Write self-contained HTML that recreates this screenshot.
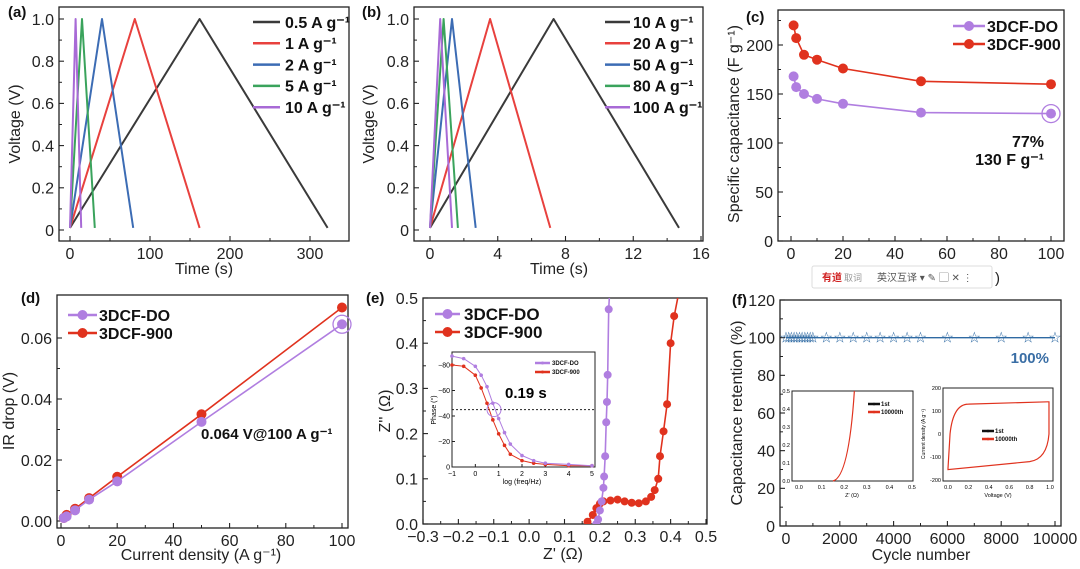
<!DOCTYPE html>
<html><head><meta charset="utf-8"><style>
html,body{margin:0;padding:0;background:#fff}
svg{display:block;font-family:"Liberation Sans",Arial,sans-serif}
</style></head><body>
<svg id="fig" width="1080" height="569" viewBox="0 0 1080 569" xmlns="http://www.w3.org/2000/svg"></svg>
<script>
// ---------- data ----------
const aRates=["0.5 A g\u207B\u00B9","1 A g\u207B\u00B9","2 A g\u207B\u00B9","5 A g\u207B\u00B9","10 A g\u207B\u00B9"];
const aPeak=[162,81,40,15,7];
const aEnd=[322,162,79,31,14];
const bRates=["10 A g\u207B\u00B9","20 A g\u207B\u00B9","50 A g\u207B\u00B9","80 A g\u207B\u00B9","100 A g\u207B\u00B9"];
const bPeak=[7.3,3.55,1.3,0.8,0.6];
const bEnd=[14.7,7.1,2.7,1.65,1.3];
const gcdColors=["#3a3a3a","#e8413e","#3c6cb4","#3aa35c","#a86ad6"];
const cX=[1,2,5,10,20,50,100];
const cDO=[168,157,150,145,140,131,130];
const c900=[220,207,190,185,176,163,160];
const dX=[1,2,5,10,20,50,100];
const dDO=[0.001,0.0015,0.0035,0.007,0.013,0.0325,0.0645];
const d900=[0.001,0.002,0.004,0.0075,0.0145,0.035,0.070];
const eDOx=[0.19,0.195,0.2,0.205,0.21,0.212,0.215,0.218,0.22,0.222,0.225,0.228];
const eDOy=[0,0.01,0.03,0.05,0.08,0.105,0.15,0.225,0.27,0.33,0.475,0.52];
const e900x=[0.165,0.18,0.19,0.2,0.21,0.23,0.25,0.27,0.29,0.31,0.33,0.345,0.355,0.365,0.37,0.38,0.39,0.4,0.41,0.425];
const e900y=[0.005,0.02,0.035,0.045,0.05,0.052,0.054,0.05,0.047,0.046,0.05,0.06,0.075,0.1,0.15,0.205,0.265,0.4,0.46,0.52];
const phX=[-1,-0.5,0,0.25,0.5,0.75,1,1.25,1.5,2,2.5,3,4,5];
const phDO=[-87,-85,-79,-72,-63,-50,-38,-27,-18,-9,-5,-3,-2,-1];
const ph900=[-80,-79,-72,-62,-50,-37,-26,-17,-10,-5,-3,-2,-1,-1];
const fX=[0,100,200,300,400,500,600,700,800,900,1000,1500,2000,2500,3000,3500,4000,4500,5000,6000,7000,8000,9000,10000];
const fY=[100,100,100,100,100,100,100,100,100,100,100,100,100,100,100,100,100,100,100,100,100,100,100,100];

// ---------- helpers ----------
const NS="http://www.w3.org/2000/svg";
const svg=document.getElementById('fig');
function mk(tag,attrs,parent,text){const e=document.createElementNS(NS,tag);for(const k in attrs)e.setAttribute(k,attrs[k]);if(text!==undefined)e.textContent=text;(parent||svg).appendChild(e);return e;}
function lin(d0,d1,p0,p1){return v=>p0+(v-d0)*(p1-p0)/(d1-d0);}
function axes(g,box,sx,sy,xt,xl,yt,yl,fs,xmin,ymin){
  const r=mk('rect',{x:box[0],y:box[1],width:box[2]-box[0],height:box[3]-box[1],fill:'none',stroke:'#222','stroke-width':1.3},g);
  
  xt.forEach((v,i)=>{const x=sx(v);mk('line',{x1:x,x2:x,y1:box[3],y2:box[3]-5,stroke:'#222','stroke-width':1.1},g);
    const t=mk('text',{x:x,y:box[3]+fs+2,'font-size':fs,'text-anchor':'middle',fill:'#222'},g,xl[i]);
    });
  if(xmin)xmin.forEach(v=>{const x=sx(v);mk('line',{x1:x,x2:x,y1:box[3],y2:box[3]-3,stroke:'#222','stroke-width':1},g);});
  yt.forEach((v,i)=>{const y=sy(v);mk('line',{x1:box[0],x2:box[0]+5,y1:y,y2:y,stroke:'#222','stroke-width':1.1},g);
    const t=mk('text',{x:box[0]-5,y:y+fs*0.36,'font-size':fs,'text-anchor':'end',fill:'#222'},g,yl[i]);
    });
  if(ymin)ymin.forEach(v=>{const y=sy(v);mk('line',{x1:box[0],x2:box[0]+3,y1:y,y2:y,stroke:'#222','stroke-width':1},g);});
}
function title(g,x,y,txt,fs,rot,name){const t=mk('text',{x:x,y:y,'font-size':fs,'text-anchor':'middle',fill:'#222',transform:rot?`rotate(-90 ${x} ${y})`:''},g,txt);
  return t;}
function poly(g,xs,ys,sx,sy,col,w,name){const p=xs.map((v,i)=>sx(v).toFixed(1)+','+sy(ys[i]).toFixed(1)).join(' ');
  const e=mk('polyline',{points:p,fill:'none',stroke:col,'stroke-width':w,'stroke-linejoin':'round'},g);
  return e;}
function dots(g,xs,ys,sx,sy,col,r,name){xs.forEach((v,i)=>{const c=mk('circle',{cx:sx(v),cy:sy(ys[i]),r:r,fill:col},g);
  });}
function label(g,x,y,txt){const t=mk('text',{x:x,y:y,'font-size':15,'font-weight':'bold',fill:'#111'},g,txt);
  }
function legend(g,x1,x2,tx,y,col,txt,fs,marker){const l=mk('g',{},g);
  
  mk('line',{x1:x1,x2:x2,y1:y,y2:y,stroke:col,'stroke-width':2.5},l);
  if(marker)mk('circle',{cx:(x1+x2)/2,cy:y,r:marker,fill:col},l);
  mk('text',{x:tx,y:y+fs*0.36,'font-size':fs,'font-weight':'bold',fill:'#111'},l,txt);}
const TF=16;

// ---------- (a) ----------
{const g=mk('g',{});
const box=[59,7,349,241];const sx=lin(0,300,70,310),sy=lin(0,1,230,19);
axes(g,box,sx,sy,[0,100,200,300],['0','100','200','300'],[0,0.2,0.4,0.6,0.8,1.0],['0','0.2','0.4','0.6','0.8','1.0'],TF,[50,150,250],[0.1,0.3,0.5,0.7,0.9]);
aPeak.forEach((p,i)=>poly(g,[0,p,aEnd[i]],[0.01,1,0.01],sx,sy,gcdColors[i],2,'gcd-curve'));
aRates.forEach((r,i)=>legend(g,253,280,285,22+i*21.3,gcdColors[i],r,16));
title(g,204,274,'Time (s)',16,false,'x-axis-title');title(g,20,124,'Voltage (V)',16,true,'y-axis-title');
label(g,8,17,'(a)');}

// ---------- (b) ----------
{const g=mk('g',{});
const box=[414,7,703,241];const sx=lin(0,16,430,701),sy=lin(0,1,230,19);
axes(g,box,sx,sy,[0,4,8,12,16],['0','4','8','12','16'],[0,0.2,0.4,0.6,0.8,1.0],['0','0.2','0.4','0.6','0.8','1.0'],TF,[2,6,10,14],[0.1,0.3,0.5,0.7,0.9]);
bPeak.forEach((p,i)=>poly(g,[0,p,bEnd[i]],[0.01,1,0.01],sx,sy,gcdColors[i],2,'gcd-curve'));
bRates.forEach((r,i)=>legend(g,605,630,633,22+i*21.3,gcdColors[i],r,16));
title(g,559,274,'Time (s)',16,false,'x-axis-title');title(g,374,124,'Voltage (V)',16,true,'y-axis-title');
label(g,362,17,'(b)');}

// ---------- (c) ----------
{const g=mk('g',{});
const box=[778,10,1064,241];const sx=lin(0,100,791,1051),sy=lin(0,200,241,45);
axes(g,box,sx,sy,[0,20,40,60,80,100],['0','20','40','60','80','100'],[0,50,100,150,200],['0','50','100','150','200'],TF,[10,30,50,70,90],[25,75,125,175,225]);
poly(g,cX,c900,sx,sy,'#e0321e',1.6,'line-3dcf-900');dots(g,cX,c900,sx,sy,'#e0321e',5,'point-3dcf-900');
poly(g,cX,cDO,sx,sy,'#b07ee0',1.6,'line-3dcf-do');dots(g,cX,cDO,sx,sy,'#b07ee0',5,'point-3dcf-do');
mk('circle',{cx:sx(100),cy:sy(130),r:9,fill:'none',stroke:'#b07ee0','stroke-width':1.3},g);
legend(g,953,985,987,26,'#b07ee0','3DCF-DO',16,5);legend(g,953,985,987,44,'#e0321e','3DCF-900',16,5);
mk('text',{x:1044,y:147,'font-size':16,'font-weight':'bold','text-anchor':'end',fill:'#111'},g,'77%');
mk('text',{x:1044,y:165,'font-size':16,'font-weight':'bold','text-anchor':'end',fill:'#111'},g,'130 F g\u207B\u00B9');
title(g,739,124,'Specific capacitance (F g\u207B\u00B9)',16,true,'y-axis-title');
label(g,746,22,'(c)');}

// ---------- (d) ----------
{const g=mk('g',{});
const box=[57,295,348,528];const sx=lin(0,100,61,342),sy=lin(0,0.06,521,338);
axes(g,box,sx,sy,[0,20,40,60,80,100],['0','20','40','60','80','100'],[0,0.02,0.04,0.06],['0.00','0.02','0.04','0.06'],TF,[10,30,50,70,90],[0.01,0.03,0.05]);
poly(g,dX,d900,sx,sy,'#e0321e',1.6,'line-3dcf-900');dots(g,dX,d900,sx,sy,'#e0321e',5,'point-3dcf-900');
poly(g,dX,dDO,sx,sy,'#b07ee0',1.6,'line-3dcf-do');dots(g,dX,dDO,sx,sy,'#b07ee0',5,'point-3dcf-do');
mk('circle',{cx:sx(100),cy:sy(0.0645),r:9,fill:'none',stroke:'#b07ee0','stroke-width':1.3},g);
legend(g,68,97,99,315,'#b07ee0','3DCF-DO',16,5);legend(g,68,97,99,333,'#e0321e','3DCF-900',16,5);
mk('text',{x:201,y:439,'font-size':15,'font-weight':'bold',fill:'#111'},g,'0.064 V@100 A g\u207B\u00B9');
title(g,201,560,'Current density (A g\u207B\u00B9)',16,false,'x-axis-title');title(g,14,411,'IR drop (V)',16,true,'y-axis-title');
label(g,21,303,'(d)');}

// ---------- (e) ----------
{const g=mk('g',{});
const box=[423,298,707,524];const sx=lin(-0.3,0.5,423,706),sy=lin(0,0.5,524,298);
axes(g,box,sx,sy,[-0.3,-0.2,-0.1,0,0.1,0.2,0.3,0.4,0.5],['\u22120.3','\u22120.2','\u22120.1','0.0','0.1','0.2','0.3','0.4','0.5'],[0,0.1,0.2,0.3,0.4,0.5],['0.0','0.1','0.2','0.3','0.4','0.5'],TF,[-0.25,-0.15,-0.05,0.05,0.15,0.25,0.35,0.45],[0.05,0.15,0.25,0.35,0.45]);
const cp=mk('clipPath',{id:'clipE'},g);mk('rect',{x:423,y:298,width:284,height:226},cp);
const gi=mk('g',{'clip-path':'url(#clipE)'},g);
poly(gi,e900x,e900y,sx,sy,'#e0321e',1.6,'line-3dcf-900');dots(gi,e900x,e900y,sx,sy,'#e0321e',4,'point-3dcf-900');
poly(gi,eDOx,eDOy,sx,sy,'#b07ee0',1.6,'line-3dcf-do');dots(gi,eDOx,eDOy,sx,sy,'#b07ee0',4,'point-3dcf-do');
legend(g,435,460,464,314,'#b07ee0','3DCF-DO',17,5);legend(g,435,460,464,332,'#e0321e','3DCF-900',17,5);
title(g,563,559,"Z' (\u03A9)",16,false,'x-axis-title');title(g,390,411,"Z'' (\u03A9)",16,true,'y-axis-title');
label(g,366,303,'(e)');
// inset
const ib=[452,352,595,467];const ix=lin(-1,5,452,592),iy=lin(0,-80,467,365);
mk('rect',{x:ib[0],y:ib[1],width:ib[2]-ib[0],height:ib[3]-ib[1],fill:'#fff',stroke:'#222','stroke-width':1},g);
const ig=mk('g',{},g);
[-1,0,1,2,3,4,5].forEach(v=>{mk('line',{x1:ix(v),x2:ix(v),y1:467,y2:464,stroke:'#222'},ig);mk('text',{x:ix(v),y:476,'font-size':7,'text-anchor':'middle'},ig,v<0?'\u22121':String(v));});
[0,-20,-40,-60,-80].forEach(v=>{mk('line',{x1:452,x2:455,y1:iy(v),y2:iy(v),stroke:'#222'},ig);mk('text',{x:450,y:iy(v)+2.5,'font-size':7,'text-anchor':'end'},ig,v===0?'0':'\u2212'+(-v));});
mk('text',{x:522,y:484,'font-size':7,'text-anchor':'middle'},ig,'log (freq/Hz)');
mk('text',{x:436,y:410,'font-size':7,'text-anchor':'middle',transform:'rotate(-90 436 410)'},ig,'Phase (\u00B0)');
mk('line',{x1:452,x2:595,y1:iy(-45),y2:iy(-45),stroke:'#222','stroke-dasharray':'2,2'},ig);
poly(ig,phX,ph900,ix,iy,'#e0321e',1,'phase-3dcf-900');dots(ig,phX,ph900,ix,iy,'#e0321e',1.8,'phase-point-900');
poly(ig,phX,phDO,ix,iy,'#b07ee0',1,'phase-3dcf-do');dots(ig,phX,phDO,ix,iy,'#b07ee0',1.8,'phase-point-do');
mk('circle',{cx:ix(0.8),cy:iy(-45),r:7,fill:'none',stroke:'#b07ee0','stroke-width':1},ig);
mk('text',{x:505,y:398,'font-size':15,'font-weight':'bold'},ig,'0.19 s');
legend(ig,535,550,552,363,'#b07ee0','3DCF-DO',6,1.5);legend(ig,535,550,552,372,'#e0321e','3DCF-900',6,1.5);}

// ---------- (f) ----------
{const g=mk('g',{});
const box=[780,300,1061,526];const sx=lin(0,10000,786,1055),sy=lin(0,120,526,300);
axes(g,box,sx,sy,[0,2000,4000,6000,8000,10000],['0','2000','4000','6000','8000','10000'],[0,20,40,60,80,100,120],['0','20','40','60','80','100','120'],TF,[1000,3000,5000,7000,9000],[10,30,50,70,90,110]);
poly(g,fX,fY,sx,sy,'#2f6aa3',1.3,'retention-line');
fX.forEach((v,i)=>{const t=mk('text',{x:sx(v),y:sy(fY[i])+5,'font-size':15,'text-anchor':'middle',fill:'#2f6aa3'},g,'\u2606');
  });
mk('text',{x:1049,y:363,'font-size':15,'font-weight':'bold','text-anchor':'end',fill:'#3a6ea5'},g,'100%');
title(g,921,560,'Cycle number',16,false,'x-axis-title');title(g,742,413,'Capacitance retention (%)',16,true,'y-axis-title');
label(g,732,305,'(f)');
// inset 1 nyquist
const a=mk('g',{},g);
mk('rect',{x:792,y:391,width:121,height:90,fill:'#fff',stroke:'#222'},a);
const ax=lin(0,0.5,799,912),ay=lin(0,0.5,481,391);
[0,0.1,0.2,0.3,0.4,0.5].forEach(v=>{mk('text',{x:ax(v),y:489,'font-size':5.5,'text-anchor':'middle'},a,v.toFixed(1));mk('text',{x:790,y:ay(v)+2,'font-size':5.5,'text-anchor':'end'},a,v.toFixed(1));});
mk('text',{x:852,y:497,'font-size':5.5,'text-anchor':'middle'},a,"Z' (\u03A9)");
mk('path',{d:`M${ax(0.15)},${ay(0)} Q${ax(0.22)},${ay(0.02)} ${ax(0.245)},${ay(0.5)}`,fill:'none',stroke:'#e0321e','stroke-width':1.2},a);
legend(a,868,880,881,404,'#111','1st',6,1.3);legend(a,868,880,881,412,'#e0321e','10000th',6,1.3);
// inset 2 CV
const b=mk('g',{},g);
mk('rect',{x:943,y:388,width:110,height:93,fill:'#fff',stroke:'#222'},b);
const bx=lin(0,1,948,1050),by=lin(-200,200,480,388);
[-200,-100,0,100,200].forEach(v=>mk('text',{x:941,y:by(v)+2,'font-size':5.5,'text-anchor':'end'},b,String(v)));
[0,0.2,0.4,0.6,0.8,1.0].forEach(v=>mk('text',{x:bx(v),y:489,'font-size':5.5,'text-anchor':'middle'},b,v.toFixed(1)));
mk('text',{x:998,y:497,'font-size':5.5,'text-anchor':'middle'},b,'Voltage (V)');
mk('text',{x:925,y:434,'font-size':5,'text-anchor':'middle',transform:'rotate(-90 925 434)'},b,'Current density (A g\u207B\u00B9)');
mk('path',{d:`M${bx(0)},${by(-150)} L${bx(0.02)},${by(0)} Q${bx(0.05)},${by(130)} ${bx(0.2)},${by(130)} L${bx(0.98)},${by(140)} L${bx(0.99)},${by(140)} L${bx(0.99)},${by(0)} Q${bx(0.97)},${by(-110)} ${bx(0.8)},${by(-120)} L${bx(0)},${by(-155)} Z`,fill:'none',stroke:'#e0321e','stroke-width':1.2},b);
legend(b,982,994,995,431,'#111','1st',6,1.3);legend(b,982,994,995,439,'#e0321e','10000th',6,1.3);}

// ---------- youdao popup overlay ----------
{const p=mk('g',{});
mk('rect',{x:812,y:266,width:180,height:22,rx:2,fill:'#fff',stroke:'#ddd'},p);
mk('text',{x:822,y:281,'font-size':10,fill:'#d02020','font-weight':'bold','font-family':'"Liberation Sans","Noto Sans CJK SC",sans-serif'},p,'有道');
mk('text',{x:844,y:281,'font-size':9,fill:'#999','font-family':'"Liberation Sans","Noto Sans CJK SC",sans-serif'},p,'取词');
mk('text',{x:877,y:281,'font-size':10,fill:'#555','font-family':'"Liberation Sans","Noto Sans CJK SC",sans-serif'},p,'英汉互译 ▾ ✎ ▢ ✕ ⋮');
mk('text',{x:995,y:283,'font-size':15,fill:'#222'},p,')');}
</script>
</body></html>
